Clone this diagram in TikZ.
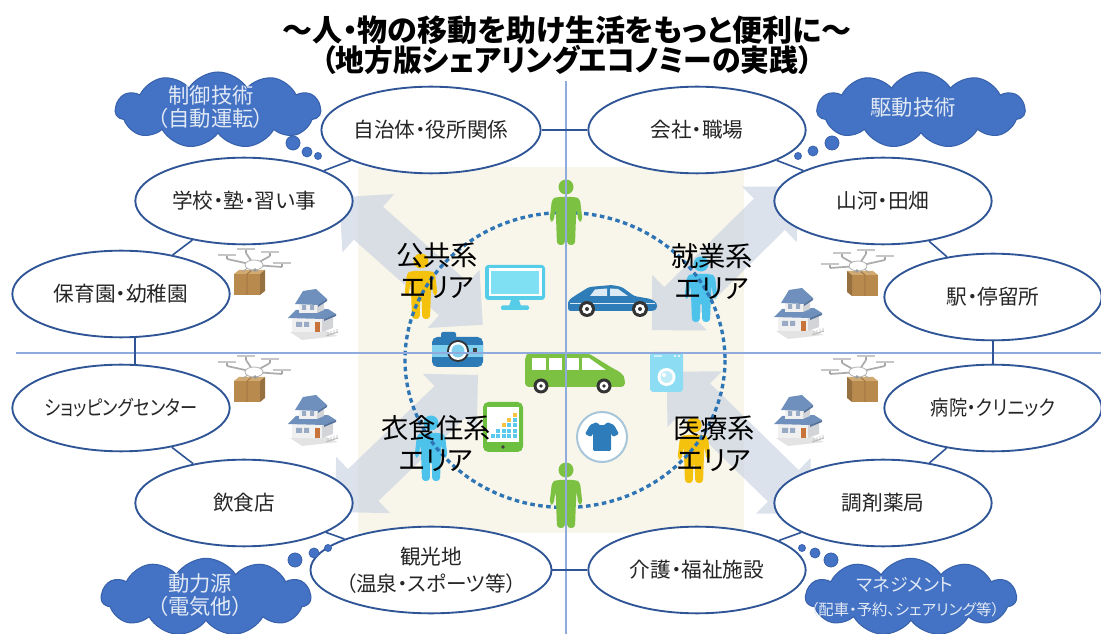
\documentclass[tikz,border=0pt]{standalone}
\usepackage{fontspec}
\setmainfont{Noto Sans CJK JP}[RawFeature=+palt]
\usetikzlibrary{shapes.geometric,shapes.symbols}

\definecolor{ringblue}{HTML}{2F5597}
\definecolor{gridblue}{HTML}{8FAADC}
\definecolor{beige}{HTML}{F8F5EA}
\definecolor{arrowc}{HTML}{C4CFE0}
\definecolor{cloudfill}{HTML}{4472C4}
\definecolor{cloudline}{HTML}{3862AC}
\definecolor{cloudtxt}{HTML}{E1E9F5}
\definecolor{dashblue}{HTML}{2E75B6}
\definecolor{pgreen}{HTML}{7CC142}
\definecolor{pyellow}{HTML}{F4C20D}
\definecolor{pblue}{HTML}{4DC3EC}
\definecolor{textc}{HTML}{262626}
\definecolor{moncol}{HTML}{55CDE8}
\definecolor{monscreen}{HTML}{80E0F3}
\definecolor{carblue}{HTML}{2F7DB8}
\definecolor{carglass}{HTML}{DCEAF5}
\definecolor{tire}{HTML}{333333}
\definecolor{camblue}{HTML}{2C7BB6}
\definecolor{camlight}{HTML}{7ED0EE}
\definecolor{vangreen}{HTML}{7CC142}
\definecolor{washc}{HTML}{8CDDF3}
\definecolor{tabgreen}{HTML}{6CBF3F}
\definecolor{chartblue}{HTML}{5BC8EE}
\definecolor{chartyellow}{HTML}{F6C343}
\definecolor{shirt}{HTML}{2E7DBA}
\definecolor{shirtring}{HTML}{A8C6DA}
\definecolor{boxc}{HTML}{B88A4E}
\definecolor{boxtop}{HTML}{D2AA70}
\definecolor{boxside}{HTML}{97703F}
\definecolor{roofc}{HTML}{6F90BC}
\definecolor{roofdark}{HTML}{54729C}
\definecolor{wallc}{HTML}{F0F0F0}
\definecolor{wallside}{HTML}{D2D4D8}
\definecolor{doorc}{HTML}{C8733A}

% double-headed pale arrow: centre x, centre y, angle, half length
\newcommand\palearrow[4]{%
  \begin{scope}[shift={(#1,#2)},rotate=#3]
    \fill[arrowc,fill opacity=0.6] (-#4,0) -- (-#4+39,39) -- (-#4+39,22) -- (#4-39,22)
      -- (#4-39,39) -- (#4,0) -- (#4-39,-39) -- (#4-39,-22) -- (-#4+39,-22)
      -- (-#4+39,-39) -- cycle;
  \end{scope}}

\tikzset{
  place/.style={ellipse, draw=ringblue, line width=1.4pt, fill=white,
    minimum width=163pt, minimum height=65pt, inner sep=0pt, text=textc,
    align=center, font=\fontsize{15.5}{20}\selectfont},
  link/.style={draw=ringblue, line width=1.2pt},
  thought/.style={cloud, cloud puffs=11, cloud puff arc=115, cloud ignores aspect,
    fill=cloudfill, draw=cloudline, line width=0.8pt, inner sep=0pt},
  cloudtext/.style={text=cloudtxt, align=center, inner sep=0pt,
    font=\fontsize{16}{17.5}\selectfont},
  bubble/.style={fill=cloudfill, draw=cloudline, line width=0.6pt},
  areatext/.style={text=black, align=center, inner sep=0pt,
    font=\fontsize{20.5}{24}\selectfont},
  headline/.style={text=black, inner sep=0pt, font=\fontsize{22.5}{26}\selectfont\bfseries},
  gridline/.style={draw=gridblue, line width=1.1pt},
  dashring/.style={draw=dashblue, line width=2.5pt, dash pattern=on 3.4pt off 2.6pt},
  person/.pic={
    \fill[#1] (0,0) circle (7.5);
    \fill[#1, rounded corners=2.5] (-9.5,10) -- (9.5,10) -- (14,12) -- (16.5,34)
      -- (12.5,35) -- (10.5,21) -- (9.8,35) -- (9,58) -- (1.2,58) -- (0.8,38)
      -- (-0.8,38) -- (-1.2,58) -- (-9,58) -- (-9.8,35) -- (-10.5,21) -- (-12.5,35)
      -- (-16.5,34) -- (-14,12) -- cycle;
  },
  drone/.pic={
    % parcel
    \fill[boxc] (-20,9) rectangle (6,30);
    \fill[boxtop] (-20,9) -- (-15,5) -- (11,5) -- (6,9) -- cycle;
    \fill[boxside] (6,9) -- (11,5) -- (11,26) -- (6,30) -- cycle;
    \draw[boxside, line width=0.6pt] (-7,9) -- (-7,30) (-7,9) -- (-2,5);
    % straps
    \draw[gray!70, line width=0.6pt] (-5,2) -- (-12,7) (4,2) -- (3,7) (-1,3) -- (-3,7);
    % arms
    \draw[gray!65, line width=1.3pt] (0,0) -- (-27,-6) (0,0) -- (-8,-12)
      (0,0) -- (16,-9) (0,0) -- (28,2);
    % rotors
    \foreach \rx/\ry in {-27/-6,-8/-12,16/-9,28/2}{
      \draw[gray!70, line width=0.9pt] (\rx,\ry) -- (\rx,\ry-4);
      \draw[gray!45, line width=0.9pt] (\rx-9,\ry-4) -- (\rx+9,\ry-4);
    }
    % body
    \filldraw[fill=white, draw=gray!60, line width=0.6pt] (0,0) ellipse [x radius=9, y radius=5];
    \fill[gray!80] (1,5) circle (1.8);
  },
  house/.pic={
    \fill[gray!22] (2,46) -- (38,45) -- (50,50) -- (14,54) -- cycle;
    % lower storey
    \fill[wallc] (4,30) rectangle (34,46);
    \fill[wallside] (34,30) -- (45,27) -- (45,42) -- (34,46) -- cycle;
    \fill[roofc] (0,32) -- (8,24) -- (40,23) -- (48,28) -- (36,33) -- cycle;
    \fill[roofdark] (36,33) -- (48,28) -- (48,30) -- (36,35) -- cycle;
    % upper storey
    \fill[wallc] (11,16) rectangle (29,27);
    \fill[wallside] (29,16) -- (36,13) -- (36,24) -- (29,27) -- cycle;
    \fill[roofc] (7,18) -- (15,5) -- (28,3) -- (39,13) -- (30,19) -- cycle;
    \fill[roofdark] (30,19) -- (39,13) -- (39,15) -- (30,21) -- cycle;
    % windows and door
    \fill[roofdark!60] (14,19) rectangle (18,24) (22,19) rectangle (26,24)
      (8,36) rectangle (14,41) (16,36) rectangle (21,41);
    \fill[doorc] (27,36) rectangle (32,46);
    % fence
    \draw[gray!55, line width=0.6pt] (38,50) -- (50,46) (40,50) -- (40,46)
      (43,49) -- (43,45) (46,48) -- (46,44) (49,47) -- (49,43);
  }
}

\begin{document}
\begin{tikzpicture}[x=0.75pt,y=-0.75pt]
\useasboundingbox (0,0) rectangle (1101,634);
\clip (0,0) rectangle (1101,634);
\fill[white] (0,0) rectangle (1101,634);

% central beige field
\fill[beige] (358,167) rectangle (744,533);

% pale double arrows towards the four corners
\palearrow{411}{261}{138.4}{96}
\palearrow{724.5}{258.5}{44.6}{102}
\palearrow{406.5}{443.5}{223.8}{99}
\palearrow{739}{442.5}{-44.4}{101}

% area figures beneath the ring
\pic at (421,261) {person=pyellow};
\pic at (701,264) {person=pblue};
\pic at (431,423) {person=pblue};
\pic at (694,425) {person=pyellow};

% dashed ring
\draw[dashring] (565,360) ellipse [x radius=160, y radius=147.5];

\pic at (566,187) {person=pgreen};
\pic at (566,470) {person=pgreen};

% monitor
\fill[moncol, rounded corners=2.5] (485,265) rectangle (545,300);
\fill[white] (488.5,268.5) rectangle (541.5,296.5);
\fill[monscreen] (491,271) rectangle (539,294);
\fill[moncol] (511,300) -- (519,300) -- (521,306) -- (509,306) -- cycle;
\fill[moncol, rounded corners=1] (501,305.5) rectangle (529,310);

% blue car
\fill[carblue, rounded corners=2] (568,311) -- (568,301) -- (573,297) -- (589,287)
  -- (612,285) -- (622,287) -- (634,296) -- (651,299) -- (657,303) -- (657,309)
  -- (653,311) -- cycle;
\fill[carglass] (590,296) -- (595,289.5) -- (607,288.5) -- (607,296) -- cycle;
\fill[carglass] (610,288.5) -- (618,289) -- (628,296) -- (610,296) -- cycle;
\draw[carglass, line width=0.7pt] (570,303) -- (655,303);
\foreach \wx in {587,640}{
  \fill[tire] (\wx,309) circle (8);
  \fill[white] (\wx,309) circle (5);
  \fill[tire] (\wx,309) circle (2);
}

% camera
\fill[camblue, rounded corners=1.5] (441,332) rectangle (456,339);
\fill[camblue, rounded corners=4] (432,337) rectangle (483,367);
\fill[camlight] (432,345) rectangle (483,357);
\fill[black!80] (458,351) circle (11);
\fill[white] (458,351) circle (9);
\fill[camlight] (458,351) circle (6.5);
\fill[black!75] (473,348) rectangle (477,352);

% green van
\fill[vangreen, rounded corners=3] (525,387) -- (525,356) -- (529,353) -- (588,353)
  -- (614,369) -- (622,373) -- (625,379) -- (625,387) -- cycle;
\fill[white] (532,358) rectangle (546,370);
\fill[white] (549,358) rectangle (562,370);
\fill[white] (565,358) rectangle (579,370);
\fill[white] (582,358) -- (589,358) -- (606,370) -- (582,370) -- cycle;
\foreach \wx in {541,604}{
  \fill[tire] (\wx,386) circle (7.5);
  \fill[white] (\wx,386) circle (4.5);
  \fill[tire] (\wx,386) circle (1.8);
}

% washing machine
\fill[washc, rounded corners=2.5] (650,352) rectangle (683,392);
\fill[white!55!washc] (654,355) rectangle (662,357.5);
\fill[white] (675,356) circle (1.2) (679,356) circle (1.2);
\fill[white] (666.5,377) circle (9);
\fill[white!45!washc] (666.5,377) circle (6);
\fill[white] (664,375) circle (2);

% tablet with bar chart
\fill[tabgreen, rounded corners=4] (483,402) rectangle (523,452);
\fill[white] (487,407) rectangle (519,442);
\foreach \c/\h in {0/1,1/2,2/3,3/4,4/5}{
  \foreach \r in {1,...,\h}{
    \fill[chartblue] (490.5+5.5*\c,439-5.2*\r) rectangle ++(4,4);
  }
  \ifnum\h>2 \fill[chartyellow] (490.5+5.5*\c,439-5.2*\h) rectangle ++(4,4);\fi
}
\fill[black!75] (503,447) circle (1.8);

% T-shirt badge
\filldraw[fill=white, draw=shirtring, line width=1.5pt] (602,437) circle (25);
\fill[shirt, rounded corners=1] (590,425) -- (597,422) .. controls (599,426) and (605,426) .. (607,422)
  -- (614,425) -- (619,434) -- (613,437) -- (611,433) -- (611,451) -- (593,451)
  -- (593,433) -- (591,437) -- (585,434) -- cycle;

% quadrant axes
\coordinate (vtop) at (566,81);
\coordinate (vbot) at (566,634);
\coordinate (hleft) at (16,353);
\coordinate (hright) at (1101,353);
\draw[gridline] (vtop) -- (vbot);
\draw[gridline] (hleft) -- (hright);

% area labels
\node[areatext] (public) at (437,271) {公共系\\エリア};
\node[areatext] (work) at (712,272) {就業系\\エリア};
\node[areatext] (living) at (436,444) {衣食住系\\エリア};
\node[areatext] (medical) at (714,444) {医療系\\エリア};

% drones and houses
\pic at (254,265) {drone};
\pic at (254,372) {drone};
\pic[xscale=-1] at (858,266) {drone};
\pic[xscale=-1] at (858,372) {drone};
\pic at (288,286) {house};
\pic at (288,392) {house};
\pic at (774,285) {house};
\pic at (774,392) {house};

% destinations
\node[place] (jichi) at (431,130) {自治体・役所関係};
\node[place] (kaisha) at (697,130) {会社・職場};
\node[place] (gakko) at (244,201) {学校・塾・習い事};
\node[place] (sanga) at (883,201) {山河・田畑};
\node[place] (hoiku) at (121,294) {保育園・幼稚園};
\node[place] (eki) at (993,297) {駅・停留所};
\node[place] (shop) at (121,408) {\scalebox{0.83}[1]{ショッピングセンター}};
\node[place] (byoin) at (993,408) {\scalebox{0.88}[1]{病院・クリニック}};
\node[place] (inshoku) at (244,503) {飲食店};
\node[place] (chozai) at (883,503) {調剤薬局};
\node[place] (kanko) at (431,570) {観光地\\（温泉・スポーツ等）};
\node[place] (kaigo) at (697,570) {介護・福祉施設};

% links between neighbouring destinations
\draw[link] (jichi) -- (kaisha);
\draw[link] (jichi) -- (gakko);
\draw[link] (gakko) -- (hoiku);
\draw[link] (hoiku.-72) -- (shop.72);
\draw[link] (shop) -- (inshoku);
\draw[link] (inshoku) -- (kanko);
\draw[link] (kanko) -- (kaigo);
\draw[link] (kaigo) -- (chozai);
\draw[link] (chozai) -- (byoin);
\draw[link] (byoin) -- (eki);
\draw[link] (eki) -- (sanga);
\draw[link] (sanga) -- (kaisha);

% technology clouds
\node[thought, minimum width=154pt, minimum height=57pt] (control) at (218,110) {};
\node[cloudtext] (controltxt) at (211,107) {制御技術\\（自動運転）};
\draw[bubble] (293,143) circle (7);
\draw[bubble] (307,152) circle (5);
\draw[bubble] (318,156) circle (3.5);

\node[thought, minimum width=156pt, minimum height=57pt] (drive) at (921,110) {};
\node[cloudtext] (drivetxt) at (913,107) {駆動技術};
\draw[bubble] (832,143) circle (7);
\draw[bubble] (813,151) circle (5);
\draw[bubble] (798,156) circle (3.5);

\node[thought, minimum width=157pt, minimum height=58pt] (power) at (206,597) {};
\node[cloudtext] (powertxt) at (200,595) {動力源\\（電気他）};
\draw[bubble] (295,560) circle (7);
\draw[bubble] (314,553) circle (5);
\draw[bubble] (328,548) circle (3.5);

\node[thought, minimum width=158pt, minimum height=58pt] (manage) at (911,597) {};
\node[cloudtext, font=\fontsize{13.5}{18}\selectfont] (managetxt) at (905,585) {マネジメント};
\node[cloudtext, font=\fontsize{11.5}{14}\selectfont] (managesub) at (905,610) {（配車・予約、シェアリング等）};
\draw[bubble] (831,560) circle (7);
\draw[bubble] (815,553) circle (5);
\draw[bubble] (802,548) circle (3.5);

% heading
\node[headline] (head1) at (567,30) {〜人・物の移動を助け生活をもっと便利に〜};
\node[headline] (head2) at (567,60) {\scalebox{0.96}[1]{（地方版シェアリングエコノミーの実践）}};
\end{tikzpicture}
\end{document}
